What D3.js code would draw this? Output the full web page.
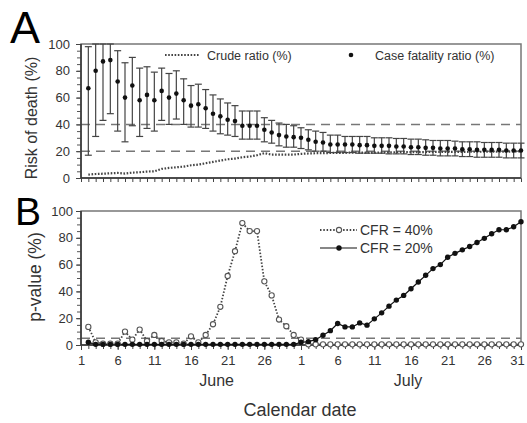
<!DOCTYPE html>
<html>
<head>
<meta charset="utf-8">
<script src="https://cdn.jsdelivr.net/npm/d3@7"></script>
<style>
  html, body { margin: 0; padding: 0; background: #fff; }
  svg text { font-family: "Liberation Sans", Arial, sans-serif; fill: #333; }
</style>
</head>
<body>
<svg id="svg" width="527" height="423"></svg>
<script>
// day index: 0 = June 1, 30 = July 1, 60 = July 31
const days = d3.range(1, 61);

// panel A: case fatality ratio (%) with 95% CI, and crude ratio (%)
const cfr = [67,80,87,88,72,60,69,58,62,58, 65,60,63,58,54,55,52,48,46,43.5,
  42.5,39,39,39,36,34,32,31,30.5,30, 28.5,27,26.5,25,25,25,25,24.5,24.5,24,
  24,24,23.5,23.5,23,23,22.5,22.5,22,22, 22,21.5,21.5,21,21,21,21,20.5,20.5,20.5];
const cfrUpper = [98,100,100,100,95,86,90,82,83,79, 82,78,80,74,69,70,66,62,59,56,
  54,50,50,50,45,43,41,40,39,37.5, 36,35,34,32,32,31,31,31,31,30,
  30,30,29.5,29.5,29,29,28.5,28,28,28, 27.5,27,27,27,26.5,26.5,26.5,26,26,26];
const cfrLower = [17,31,43,48,35,27,39,31,37,35, 43,40,44,40,38,38,37,35,33,32,
  31,29,29,29,27,26,24,23,23,22, 21,20,20,19,19,19,19,18.5,18.5,18.5,
  18.5,18,18,18,17.5,17.5,17,17,16.5,16.5, 16.5,16,16,15.5,15.5,15.5,15.5,15,15,15];
const crude = [2.5,3,3.2,3.5,3.8,3.3,4,4.3,4.8,5, 6.8,7.5,8,8.5,9.5,10,11,12,13,14,
  14.5,15.5,16,17,18.5,17.5,17.5,17.5,17.5,18, 18.3,18.5,18.5,18.7,18.8,18.8,19,19,19,19,
  19,19.2,19.2,19.3,19.3,19.3,19.4,19.4,19.5,19.5, 19.5,19.5,19.6,19.6,19.6,19.7,19.7,19.7,19.8,19.8];

// panel B: p-values (%)
const p40 = [13.5,2,1,1,1,10,4,11.5,3,7.5, 3,2,2,1,6.5,2,7.5,15.5,28.5,51.5,
  70,91,85,85,47.5,37,19,14,7.5,4, 0.5,0.5,0.5,0.5,0.5,0.5,0.5,0.5,0.5,0.5,
  0.5,0.5,0.5,0.5,0.5,0.5,0.5,0.5,0.5,0.5, 0.5,0.5,0.5,0.5,0.5,0.5,0.5,0.5,0.5,0.5];
const p20 = [2,0.5,0.5,0.5,0.5,0.5,0.5,0.5,0.5,0.5, 0.5,0.5,0.5,0.5,0.5,0.5,0.5,0.5,0.5,0.5,
  0.5,0.5,0.5,0.5,0.5,0.5,0.5,0.5,0.5,2, 2.5,4,7.3,10.7,16,13.5,13.5,16.5,14.8,19.5,
  24,29,33.5,37,42,47,52,57,60,65.5, 68.4,71,73.5,76.5,79.6,83,86,86,88.2,92];

const yTicks = [0, 20, 40, 60, 80, 100];
const xTickDays = [0,5,10,15,20,25,30,35,40,45,50,55,60];
const xTickLabels = ["1","6","11","16","21","26","1","6","11","16","21","26","31"];
const months = [{name: "June", at: 18.5}, {name: "July", at: 44.6}];
const refA = [20, 40];
const refB = [5];

const svg = d3.select("#svg");
const x = d3.scaleLinear().domain([0, 60]).range([81, 521]);
const yA = d3.scaleLinear().domain([0, 100]).range([178, 44]);
const yB = d3.scaleLinear().domain([0, 100]).range([345, 211]);

function drawFrame(y, labelX) {
  let g = svg.append("g");
  // minor ticks on y
  g.append("g").attr("transform", `translate(${x(0)},0)`)
    .call(d3.axisLeft(y).tickValues(d3.range(0, 101, 5)).tickSize(4).tickFormat(""))
    .call(a => a.select(".domain").remove())
    .selectAll("line").attr("stroke", "#555");
  // major y ticks and labels
  g.append("g").attr("transform", `translate(${x(0)},0)`)
    .call(d3.axisLeft(y).tickValues(yTicks).tickSize(5).tickPadding(labelX))
    .call(a => a.select(".domain").remove())
    .call(a => a.selectAll("line").attr("stroke", "#444"))
    .call(a => a.selectAll("text").attr("font-size", 13).attr("fill", "#444"));
  // daily ticks on x
  g.append("g").attr("transform", `translate(0,${y(0)})`)
    .call(d3.axisBottom(x).tickValues(d3.range(0, 61)).tickSize(4).tickFormat(""))
    .call(a => a.select(".domain").remove())
    .selectAll("line").attr("stroke", "#444");
  // box
  g.append("rect")
    .attr("x", x(0)).attr("y", y(100))
    .attr("width", x(60) - x(0)).attr("height", y(0) - y(100))
    .attr("fill", "none").attr("stroke", "#777").attr("stroke-width", 1.5);
  g.append("path")
    .attr("d", `M${x(0)},${y(100)}V${y(0)}H${x(60)}`)
    .attr("fill", "none").attr("stroke", "#333").attr("stroke-width", 1.5);
  return g;
}

function refLines(y, values) {
  svg.append("g").selectAll("line").data(values).join("line")
    .attr("x1", x(0)).attr("x2", x(60))
    .attr("y1", d => y(d)).attr("y2", d => y(d))
    .attr("stroke", "#777").attr("stroke-width", 1.5)
    .attr("stroke-dasharray", "9,6");
}

// ---------- panel A ----------
refLines(yA, refA);
drawFrame(yA, 6);

const crudeLine = d3.line().x((d, i) => x(days[i])).y(d => yA(d));
svg.append("path").attr("d", crudeLine(crude))
  .attr("fill", "none").attr("stroke", "#444").attr("stroke-width", 2.2)
  .attr("stroke-dasharray", "1.6,1.6");

const bars = svg.append("g").attr("stroke", "#444").attr("stroke-width", 1.2);
days.forEach((d, i) => {
  let cx = x(d), top = yA(Math.min(cfrUpper[i], 100)), bot = yA(cfrLower[i]);
  bars.append("line").attr("x1", cx).attr("x2", cx).attr("y1", top).attr("y2", bot);
  bars.append("line").attr("x1", cx - 3.5).attr("x2", cx + 3.5).attr("y1", top).attr("y2", top);
  bars.append("line").attr("x1", cx - 3.5).attr("x2", cx + 3.5).attr("y1", bot).attr("y2", bot);
});
svg.append("g").selectAll("circle").data(cfr).join("circle")
  .attr("cx", (d, i) => x(days[i])).attr("cy", d => yA(d))
  .attr("r", 2.3).attr("fill", "#111");

// legend A
svg.append("line").attr("x1", 165).attr("x2", 200).attr("y1", 55).attr("y2", 55)
  .attr("stroke", "#444").attr("stroke-width", 2.2).attr("stroke-dasharray", "1.6,1.6");
svg.append("text").attr("x", 207).attr("y", 59.5).attr("font-size", 12.5).text("Crude ratio (%)");
svg.append("circle").attr("cx", 351).attr("cy", 55).attr("r", 2.3).attr("fill", "#111");
svg.append("text").attr("x", 375).attr("y", 59.5).attr("font-size", 12.5).text("Case fatality ratio (%)");

svg.append("text").attr("transform", "translate(37,118) rotate(-90)")
  .attr("text-anchor", "middle").attr("font-size", 16).text("Risk of death (%)");
svg.append("text").attr("x", 10).attr("y", 43).attr("font-size", 45)
  .style("fill", "#000").text("A");

// ---------- panel B ----------
refLines(yB, refB);
drawFrame(yB, 3);

svg.append("g").attr("transform", `translate(0,${yB(0)})`)
  .call(d3.axisBottom(x).tickValues(xTickDays).tickSize(5).tickPadding(6)
    .tickFormat((d, i) => xTickLabels[i]))
  .call(a => a.select(".domain").remove())
  .call(a => a.selectAll("line").attr("stroke", "#444"))
  .call(a => a.selectAll("text").attr("font-size", 13).attr("fill", "#444")
    .attr("dx", (d, i) => i === xTickDays.length - 1 ? -4 : 0));

svg.append("g").selectAll("text").data(months).join("text")
  .attr("x", d => x(d.at)).attr("y", 386).attr("text-anchor", "middle")
  .attr("font-size", 16).text(d => d.name);

const lineB = d3.line().x((d, i) => x(days[i])).y(d => yB(d));
svg.append("path").attr("d", lineB(p40))
  .attr("fill", "none").attr("stroke", "#444").attr("stroke-width", 1.8)
  .attr("stroke-dasharray", "1.5,1.8");
svg.append("path").attr("d", lineB(p20))
  .attr("fill", "none").attr("stroke", "#111").attr("stroke-width", 1.2);
svg.append("g").selectAll("circle").data(p40).join("circle")
  .attr("cx", (d, i) => x(days[i])).attr("cy", d => yB(d))
  .attr("r", 2.6).attr("fill", "#fff").attr("stroke", "#555").attr("stroke-width", 1.1);
svg.append("g").selectAll("circle").data(p20).join("circle")
  .attr("cx", (d, i) => x(days[i])).attr("cy", d => yB(d))
  .attr("r", 2.7).attr("fill", "#111");

// legend B
svg.append("line").attr("x1", 320).attr("x2", 357).attr("y1", 230).attr("y2", 230)
  .attr("stroke", "#444").attr("stroke-width", 1.8).attr("stroke-dasharray", "1.5,1.8");
svg.append("circle").attr("cx", 339).attr("cy", 230).attr("r", 2.6)
  .attr("fill", "#fff").attr("stroke", "#555").attr("stroke-width", 1.1);
svg.append("text").attr("x", 360).attr("y", 235).attr("font-size", 14).text("CFR = 40%");
svg.append("line").attr("x1", 320).attr("x2", 357).attr("y1", 248).attr("y2", 248)
  .attr("stroke", "#111").attr("stroke-width", 1.2);
svg.append("circle").attr("cx", 339).attr("cy", 248).attr("r", 2.7).attr("fill", "#111");
svg.append("text").attr("x", 360).attr("y", 253).attr("font-size", 14).text("CFR = 20%");

svg.append("text").attr("transform", "translate(41,277) rotate(-90)")
  .attr("text-anchor", "middle").attr("font-size", 17.5).text("p-value (%)");
svg.append("text").attr("x", 15).attr("y", 225).attr("font-size", 39)
  .style("fill", "#000").text("B");

svg.append("text").attr("x", 300).attr("y", 416).attr("text-anchor", "middle")
  .attr("font-size", 18).text("Calendar date");
</script>
</body>
</html>
